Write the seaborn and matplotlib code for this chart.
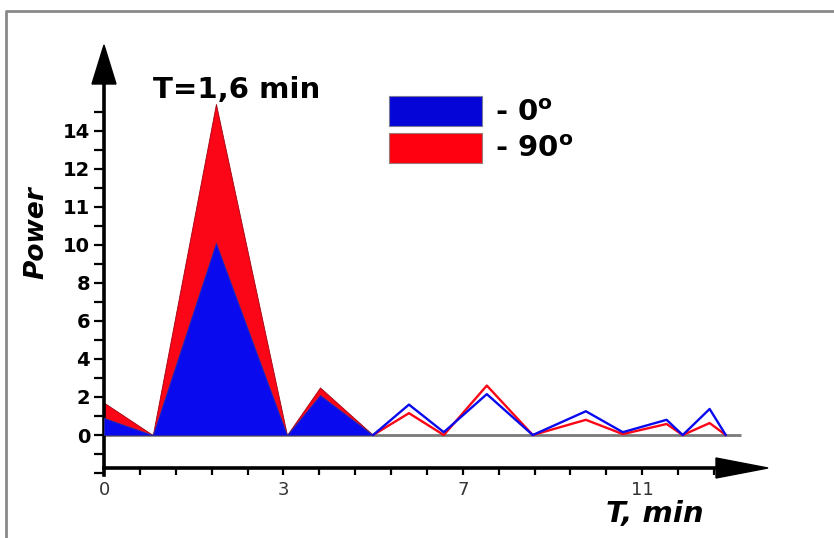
import numpy as np
import pandas as pd
import matplotlib
matplotlib.use("Agg")
import matplotlib.pyplot as plt
from matplotlib.patches import Polygon, Patch
from matplotlib.lines import Line2D
import seaborn as sns

# ---- data (x in axis units; tick labels are the original's) ----
x_pos = [0, 1.36, 3.12, 5.1, 6.02, 7.5, 8.5, 9.47, 10.67, 11.95, 13.43, 14.46, 15.68, 16.13, 16.88, 17.33]
power_0 = [0.9, 0, 10.1, 0, 2.1, 0, 1.6, 0.15, 2.15, 0, 1.25, 0.15, 0.8, 0, 1.37, 0]
power_90 = [1.7, 0, 17.4, 0, 2.5, 0, 1.15, 0, 2.6, 0, 0.8, 0.05, 0.58, 0, 0.63, 0]
n_filled = 6  # first points drawn as filled areas

x_major = [0, 5, 10, 15]
x_labels = ["0", "3", "7", "11"]
y_major = [0, 2, 4, 6, 8, 10, 12, 14, 16]
y_labels = ["0", "2", "4", "6", "8", "10", "11", "12", "14"]

labels = ["- 0$^{\\mathbf{o}}$", "- 90$^{\\mathbf{o}}$"]
title = "T=1,6 min"
xlabel = "T, min"
ylabel = "Power"

BLUE = "#0a0aee"
RED = "#fb0616"

sns.set_style("ticks")
plt.rcParams["font.family"] = ["DejaVu Sans"]
plt.rcParams["text.color"] = "black"
plt.rcParams["axes.labelcolor"] = "black"

W, H = 834, 538
fig = plt.figure(figsize=(W / 100, H / 100), dpi=100)

def fx(px):
    return px / W

def fy(py):
    return 1 - py / H

ax = fig.add_axes([fx(104), fy(475), fx(104 + 653) - fx(104), fy(83) - fy(475)])
ax.set_xlim(0, 18.2)
ax.set_ylim(-2.1, 18.5)

# filled region
xf = np.array(x_pos[:n_filled])
ax.fill_between(xf, 0, np.array(power_90[:n_filled]), color=RED, lw=0.6,
                edgecolor="#a00010", zorder=2)
ax.fill_between(xf, 0, np.array(power_0[:n_filled]), color=BLUE, lw=0.6,
                edgecolor="#3030a0", zorder=3)

# baseline
ax.hlines(0, 0, 17.75, color="#7a7a7a", lw=2.0, zorder=1)

# line region
df = pd.DataFrame({
    "x": x_pos[n_filled - 1:] * 2,
    "y": power_90[n_filled - 1:] + power_0[n_filled - 1:],
    "s": ["90"] * (len(x_pos) - n_filled + 1) + ["0"] * (len(x_pos) - n_filled + 1),
})
sns.lineplot(data=df, x="x", y="y", hue="s", palette={"90": RED, "0": BLUE},
             hue_order=["90", "0"], lw=1.7, ax=ax, legend=False, zorder=4,
             estimator=None, sort=False)

# spines
for s in ["top", "right"]:
    ax.spines[s].set_visible(False)
ax.spines["left"].set_linewidth(2.6)
ax.spines["bottom"].set_linewidth(2.6)
ax.spines["left"].set_color("black")
ax.spines["bottom"].set_color("black")
ax.spines["bottom"].set_position(("data", -1.75))
ax.spines["bottom"].set_bounds(0, 17.1)
ax.spines["left"].set_bounds(-2.1, 18.5)

ax.set_xticks(x_major)
ax.set_xticklabels(x_labels, fontsize=13, color="#333333")
ax.set_xticks([v for v in range(0, 18) if v not in x_major], minor=True)
ax.tick_params(axis="x", which="both", direction="out", length=5, width=1.6,
               color="black", pad=4)

ax.set_yticks(y_major)
ax.set_yticklabels(y_labels, fontsize=14, fontweight="bold", color="black")
ax.set_yticks([v for v in range(-2, 18) if v not in y_major], minor=True)
ax.tick_params(axis="y", which="both", direction="out", length=7, width=1.6,
               color="black", pad=3)
ax.set_xlabel("")
ax.set_ylabel("")

# arrow heads
fig.patches.append(Polygon([(fx(92), fy(84)), (fx(116), fy(84)), (fx(104), fy(45))],
                           closed=True, transform=fig.transFigure, color="black"))
fig.patches.append(Polygon([(fx(716), fy(458)), (fx(716), fy(478)), (fx(768), fy(468))],
                           closed=True, transform=fig.transFigure, color="black"))

# outer frame (left & top)
fig.lines.append(Line2D([fx(6), fx(6), fx(834)], [fy(538), fy(11), fy(11)],
                        transform=fig.transFigure, color="#8a8a8a", lw=2.0))

# texts
fig.text(fx(153), fy(90), title, fontsize=21, fontweight="bold", ha="left", va="center",
         color="black")
fig.text(fx(36), fy(233), ylabel, fontsize=19, fontweight="bold", style="italic",
         rotation=90, ha="center", va="center", color="black")
fig.text(fx(655), fy(514), xlabel, fontsize=21, fontweight="bold", style="italic",
         ha="center", va="center", color="black")

# legend
handles = [Patch(facecolor="#0505d8", edgecolor="#7a7a9a", lw=0.8),
           Patch(facecolor="#ff0010", edgecolor="#9a7a7a", lw=0.8)]
leg = ax.legend(handles, labels, loc="upper left", bbox_to_anchor=(fx(389), fy(96)),
                bbox_transform=fig.transFigure, frameon=False, borderpad=0,
                borderaxespad=0, handlelength=3.2, handleheight=1.2,
                handletextpad=0.45, labelspacing=0.2,
                prop={"size": 21, "weight": "bold"})
for t in leg.get_texts():
    t.set_color("black")

fig.savefig("out.png", dpi=100)
